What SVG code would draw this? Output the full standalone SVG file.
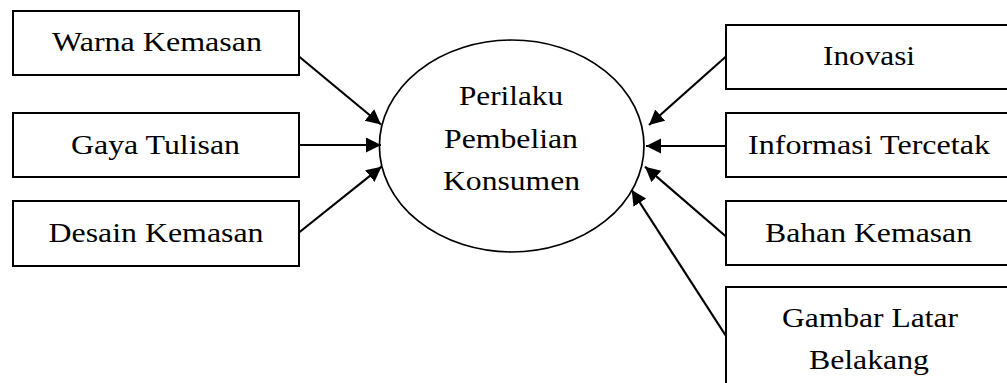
<svg xmlns="http://www.w3.org/2000/svg" width="1007" height="383" viewBox="0 0 1007 383">
  <style>
    .box { fill: #fff; stroke: #000; stroke-width: 2; }
    .hub { fill: #fff; stroke: #000; stroke-width: 1.7; }
    text { font-family: 'Liberation Serif', 'Times New Roman', serif; font-size: 28px; fill: #000; text-anchor: middle; }
    .edge { stroke: #000; stroke-width: 2.2; fill: none; marker-end: url(#head); }
  </style>
  <defs>
    <marker id="head" markerUnits="userSpaceOnUse" markerWidth="16" markerHeight="16" refX="15" refY="7.5" orient="auto" viewBox="0 0 16 16">
      <path d="M0,0 L15,7.5 L0,15 z" fill="#000"/>
    </marker>
  </defs>

  <rect width="1007" height="383" fill="#fff"/>

  <!-- central construct -->
  <g id="perilaku">
    <ellipse class="hub" cx="511.7" cy="146" rx="132.3" ry="106"/>
    <text x="511" y="105" textLength="104" lengthAdjust="spacingAndGlyphs">Perilaku</text>
    <text x="511" y="148" textLength="134" lengthAdjust="spacingAndGlyphs">Pembelian</text>
    <text x="511.5" y="190" textLength="137" lengthAdjust="spacingAndGlyphs">Konsumen</text>
  </g>

  <!-- left factors -->
  <g id="warna">
    <rect class="box" x="13" y="11" width="286" height="64"/>
    <text x="157" y="51" textLength="210" lengthAdjust="spacingAndGlyphs">Warna Kemasan</text>
  </g>
  <g id="gaya">
    <rect class="box" x="13" y="113" width="286" height="64"/>
    <text x="155.5" y="154" textLength="169" lengthAdjust="spacingAndGlyphs">Gaya Tulisan</text>
  </g>
  <g id="desain">
    <rect class="box" x="13" y="201" width="286" height="65"/>
    <text x="156" y="242" textLength="215" lengthAdjust="spacingAndGlyphs">Desain Kemasan</text>
  </g>

  <!-- right factors (boxes run past the right edge) -->
  <g id="inovasi">
    <rect class="box" x="726" y="25" width="300" height="64"/>
    <text x="869" y="65" textLength="92" lengthAdjust="spacingAndGlyphs">Inovasi</text>
  </g>
  <g id="informasi">
    <rect class="box" x="726" y="113" width="300" height="64"/>
    <text x="869" y="154" textLength="242" lengthAdjust="spacingAndGlyphs">Informasi Tercetak</text>
  </g>
  <g id="bahan">
    <rect class="box" x="726" y="201" width="300" height="64"/>
    <text x="868.5" y="242" textLength="207" lengthAdjust="spacingAndGlyphs">Bahan Kemasan</text>
  </g>
  <g id="gambar">
    <rect class="box" x="726" y="287" width="300" height="120"/>
    <text x="870" y="327" textLength="176" lengthAdjust="spacingAndGlyphs">Gambar Latar</text>
    <text x="869" y="369" textLength="120" lengthAdjust="spacingAndGlyphs">Belakang</text>
  </g>

  <!-- connectors -->
  <g id="connectors">
    <line class="edge" x1="299" y1="56.5" x2="381" y2="124.5"/>
    <line class="edge" x1="299" y1="145" x2="381" y2="145"/>
    <line class="edge" x1="299" y1="232.5" x2="381.5" y2="166.7"/>
    <line class="edge" x1="726" y1="56.5" x2="649" y2="125"/>
    <line class="edge" x1="726" y1="146" x2="646" y2="146"/>
    <line class="edge" x1="726" y1="236.5" x2="645" y2="166.7"/>
    <line class="edge" x1="726" y1="336" x2="631.7" y2="190"/>
  </g>
</svg>
